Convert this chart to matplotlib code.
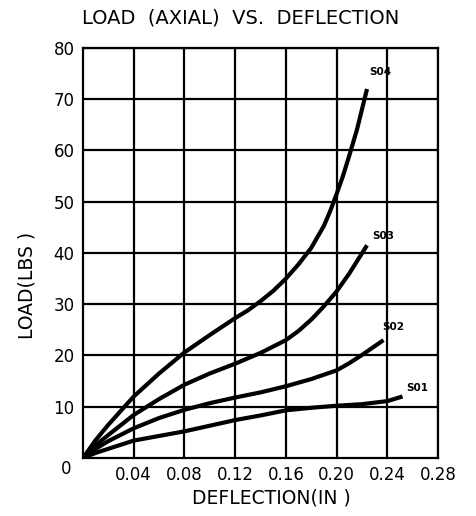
import matplotlib
matplotlib.use("Agg")
import matplotlib.pyplot as plt

# load (lbs) vs deflection (in)
s01_x = [0, 0.01, 0.02, 0.04, 0.06, 0.08, 0.10, 0.12, 0.14, 0.16, 0.18, 0.20, 0.22, 0.24, 0.252]
s01_y = [0, 1.0, 1.8, 3.4, 4.3, 5.2, 6.3, 7.4, 8.3, 9.3, 9.8, 10.2, 10.5, 11.1, 12.0]

s02_x = [0, 0.01, 0.02, 0.04, 0.06, 0.08, 0.10, 0.12, 0.14, 0.16, 0.18, 0.20, 0.21, 0.22, 0.237]
s02_y = [0, 1.8, 3.3, 5.8, 7.8, 9.4, 10.7, 11.8, 12.8, 14.0, 15.4, 17.1, 18.5, 20.1, 23.0]

s03_x = [0, 0.01, 0.02, 0.04, 0.06, 0.08, 0.10, 0.12, 0.14, 0.16, 0.17, 0.18, 0.19, 0.20, 0.21, 0.224]
s03_y = [0, 2.5, 4.5, 8.4, 11.5, 14.3, 16.5, 18.4, 20.5, 23.0, 24.8, 27.0, 29.6, 32.5, 36.0, 41.5]

s04_x = [0, 0.01, 0.02, 0.04, 0.06, 0.08, 0.10, 0.12, 0.13, 0.14, 0.15, 0.16, 0.17, 0.18, 0.19,
         0.195, 0.20, 0.205, 0.21, 0.216, 0.224]
s04_y = [0, 3.5, 6.5, 12.0, 16.5, 20.6, 24.0, 27.3, 28.8, 30.6, 32.6, 35.0, 37.8, 41.0, 45.3,
         48.2, 51.5, 55.0, 59.0, 64.0, 72.0]

series_names = ["S01", "S02", "S03", "S04"]
label_pos = [(0.255, 13.6), (0.236, 25.6), (0.228, 43.4), (0.226, 75.3)]

x_ticks = [0.04, 0.08, 0.12, 0.16, 0.20, 0.24, 0.28]
x_labels = ["0.04", "0.08", "0.12", "0.16", "0.20", "0.24", "0.28"]
y_ticks = [10, 20, 30, 40, 50, 60, 70, 80]

plt.rcParams["font.family"] = "DejaVu Sans"

fig = plt.figure(figsize=(4.76, 5.16), dpi=100)
ax = fig.add_axes([0.1744, 0.1124, 0.7458, 0.7946])

for xs, ys in [(s01_x, s01_y), (s02_x, s02_y), (s03_x, s03_y), (s04_x, s04_y)]:
    ax.plot(xs, ys, color="black", lw=3.0, solid_capstyle="butt",
            solid_joinstyle="round", zorder=3)

for name, (lx, ly) in zip(series_names, label_pos):
    ax.text(lx, ly, name, fontsize=7.5, fontweight="bold", ha="left", va="center")

ax.set_xlim(0, 0.28)
ax.set_ylim(0, 80)
ax.set_xticks(x_ticks)
ax.set_xticklabels(x_labels, fontsize=12)
ax.set_yticks(y_ticks)
ax.set_yticklabels([str(v) for v in y_ticks], fontsize=12)
ax.tick_params(length=0, pad=6)
ax.grid(True, color="black", lw=1.6)
for sp in ax.spines.values():
    sp.set_linewidth(1.6)

# lone "0" at the origin corner
ax.annotate("0", xy=(0, 0), xycoords="axes fraction", xytext=(-12, -8),
            textcoords="offset points", fontsize=12, ha="center", va="center")

ax.set_xlabel("DEFLECTION(IN )", fontsize=13.5)
ax.xaxis.set_label_coords(0.53, -0.075)
ax.set_ylabel("LOAD(LBS )", fontsize=13.5)
ax.yaxis.set_label_coords(-0.13, 0.42)

fig.text(0.506, 0.965, "LOAD  (AXIAL)  VS.  DEFLECTION", fontsize=14,
         ha="center", va="center")

fig.savefig("out.png", dpi=100)
